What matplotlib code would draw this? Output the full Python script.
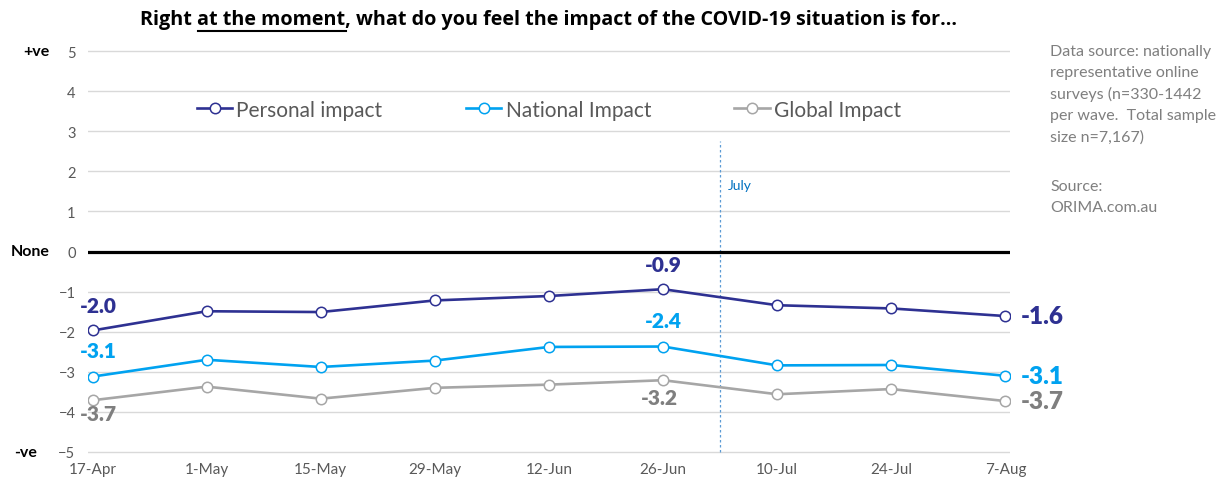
import numpy as np
import matplotlib
matplotlib.use('Agg')
import matplotlib.pyplot as plt

plt.rcParams.update({'font.family': ['Lato', 'DejaVu Sans']})

# data
dates = ['17-Apr', '1-May', '15-May', '29-May', '12-Jun', '26-Jun', '10-Jul', '24-Jul', '7-Aug']
personal = [-1.97, -1.49, -1.51, -1.22, -1.11, -0.94, -1.34, -1.42, -1.61]
national = [-3.12, -2.70, -2.88, -2.72, -2.38, -2.37, -2.84, -2.83, -3.10]
global_imp = [-3.71, -3.37, -3.67, -3.40, -3.32, -3.21, -3.56, -3.43, -3.73]
series_names = ['Personal impact', 'National Impact', 'Global Impact']
yticks = [5, 4, 3, 2, 1, 0, -1, -2, -3, -4, -5]
side_labels = ['+ve', 'None', '-ve']
side_values = [5, 0, -5]
july_pos = 5.5
july_top = 2.75

C_PERS = '#2E3192'
C_NAT = '#00A2F0'
C_GLOB = '#A6A6A6'
C_GLOB_TXT = '#7F7F7F'
GREY = '#595959'

fig = plt.figure(figsize=(12.31, 4.85), dpi=100)
ax = fig.add_axes([88 / 1231, 30 / 485, 922 / 1231, 405 / 485])

x = np.arange(len(dates))
for vals, name, c in [(personal, series_names[0], C_PERS),
                      (national, series_names[1], C_NAT),
                      (global_imp, series_names[2], C_GLOB)]:
    ax.plot(x, vals, color=c, lw=1.9, marker='o', ms=7.5, mfc='white',
            mec=c, mew=1.1, label=name, zorder=4)

ax.set_xlim(-0.04, 8.04)
ax.set_ylim(-5.05, 5.05)
ax.set_yticks(yticks)
ax.set_xticks(x)
ax.set_xticklabels(dates)
ax.yaxis.grid(True, color='#D9D9D9', lw=1.0)
ax.set_axisbelow(True)
ax.axhline(0, color='black', lw=2.3, zorder=3)
for s in ax.spines.values():
    s.set_visible(False)
ax.tick_params(length=0, labelcolor=GREY, labelsize=10.5)
ax.tick_params(axis='y', pad=9)
ax.tick_params(axis='x', pad=6, labelsize=11)

# July marker
ax.plot([july_pos, july_pos], [-5, july_top], ls=(0, (2, 2)), color='#5B9BD5', lw=0.9, zorder=2)
ax.text(july_pos + 0.07, 1.65, 'July', color='#0070C0', fontsize=10, va='center')

# data labels: (series, colour, index, dx px, dy px, size)
lab_specs = [
    (personal, C_PERS, 0, 6, 25, 15), (personal, C_PERS, 5, 0, 25, 15), (personal, C_PERS, 8, 15, 0, 17.5),
    (national, C_NAT, 0, 6, 26, 15), (national, C_NAT, 5, 0, 26, 15), (national, C_NAT, 8, 15, 0, 17.5),
    (global_imp, C_GLOB_TXT, 0, 6, -13, 15), (global_imp, C_GLOB_TXT, 5, -4, -17, 15), (global_imp, C_GLOB_TXT, 8, 15, 0, 17.5),
]
for vals, c, i, dx, dy, fs in lab_specs:
    ha = 'left' if i == len(dates) - 1 else 'center'
    ax.annotate(f'{vals[i]:.1f}', xy=(i, vals[i]), xytext=(dx * 0.72, dy * 0.72),
                textcoords='offset points', ha=ha, va='center', fontsize=fs,
                fontweight='heavy', color=c, zorder=5)

# +ve / None / -ve
side_x = [36, 30, 26]
for lab, v, px in zip(side_labels, side_values, side_x):
    ypx = ax.transData.transform((0, v))[1]
    fig.text(px / 1231, ypx / 485, lab, ha='center', va='center', fontsize=11.5,
             fontweight='bold', color='black')

leg = ax.legend(loc='center', bbox_to_anchor=(0.5, 0.85), ncol=3, frameon=False,
                fontsize=15, handlelength=1.7, handletextpad=0.2, columnspacing=4.0)
for t in leg.get_texts():
    t.set_color(GREY)

# source notes
fig.text(1050 / 1231, 1 - 45 / 485,
         'Data source: nationally\nrepresentative online\nsurveys (n=330-1442\n'
         'per wave.  Total sample\nsize n=7,167)',
         ha='left', va='top', fontsize=11.5, color='#7F7F7F', linespacing=1.62)
fig.text(1050 / 1231, 1 - 180 / 485, 'Source:\nORIMA.com.au',
         ha='left', va='top', fontsize=11.5, color='#7F7F7F', linespacing=1.62)

# title with underlined part
title_pre = 'Right '
title_ul = 'at the moment'
title_post = ', what do you feel the impact of the COVID-19 situation is for\u2026'
tkw = dict(fontsize=14.2, fontweight='bold', color='black', family=['Open Sans', 'DejaVu Sans'])
title = fig.text(549 / 1231, 1 - 20 / 485, title_pre + title_ul + title_post,
                 ha='center', va='center', **tkw)
fig.canvas.draw()
r = fig.canvas.get_renderer()
bb = title.get_window_extent(r)
tmp1 = fig.text(0, 0, title_pre + title_ul, **tkw)
tmp2 = fig.text(0, 0, title_ul, **tkw)
w1 = tmp1.get_window_extent(r).width
w2 = tmp2.get_window_extent(r).width
tmp1.remove()
tmp2.remove()
x_end = bb.x0 + w1
x_start = x_end - w2
y_ul = 485 - 32
fig.add_artist(plt.Line2D([x_start / 1231, x_end / 1231], [y_ul / 485, y_ul / 485],
                          color='black', lw=1.5, transform=fig.transFigure))

fig.savefig('out.png', dpi=100, facecolor='white')
